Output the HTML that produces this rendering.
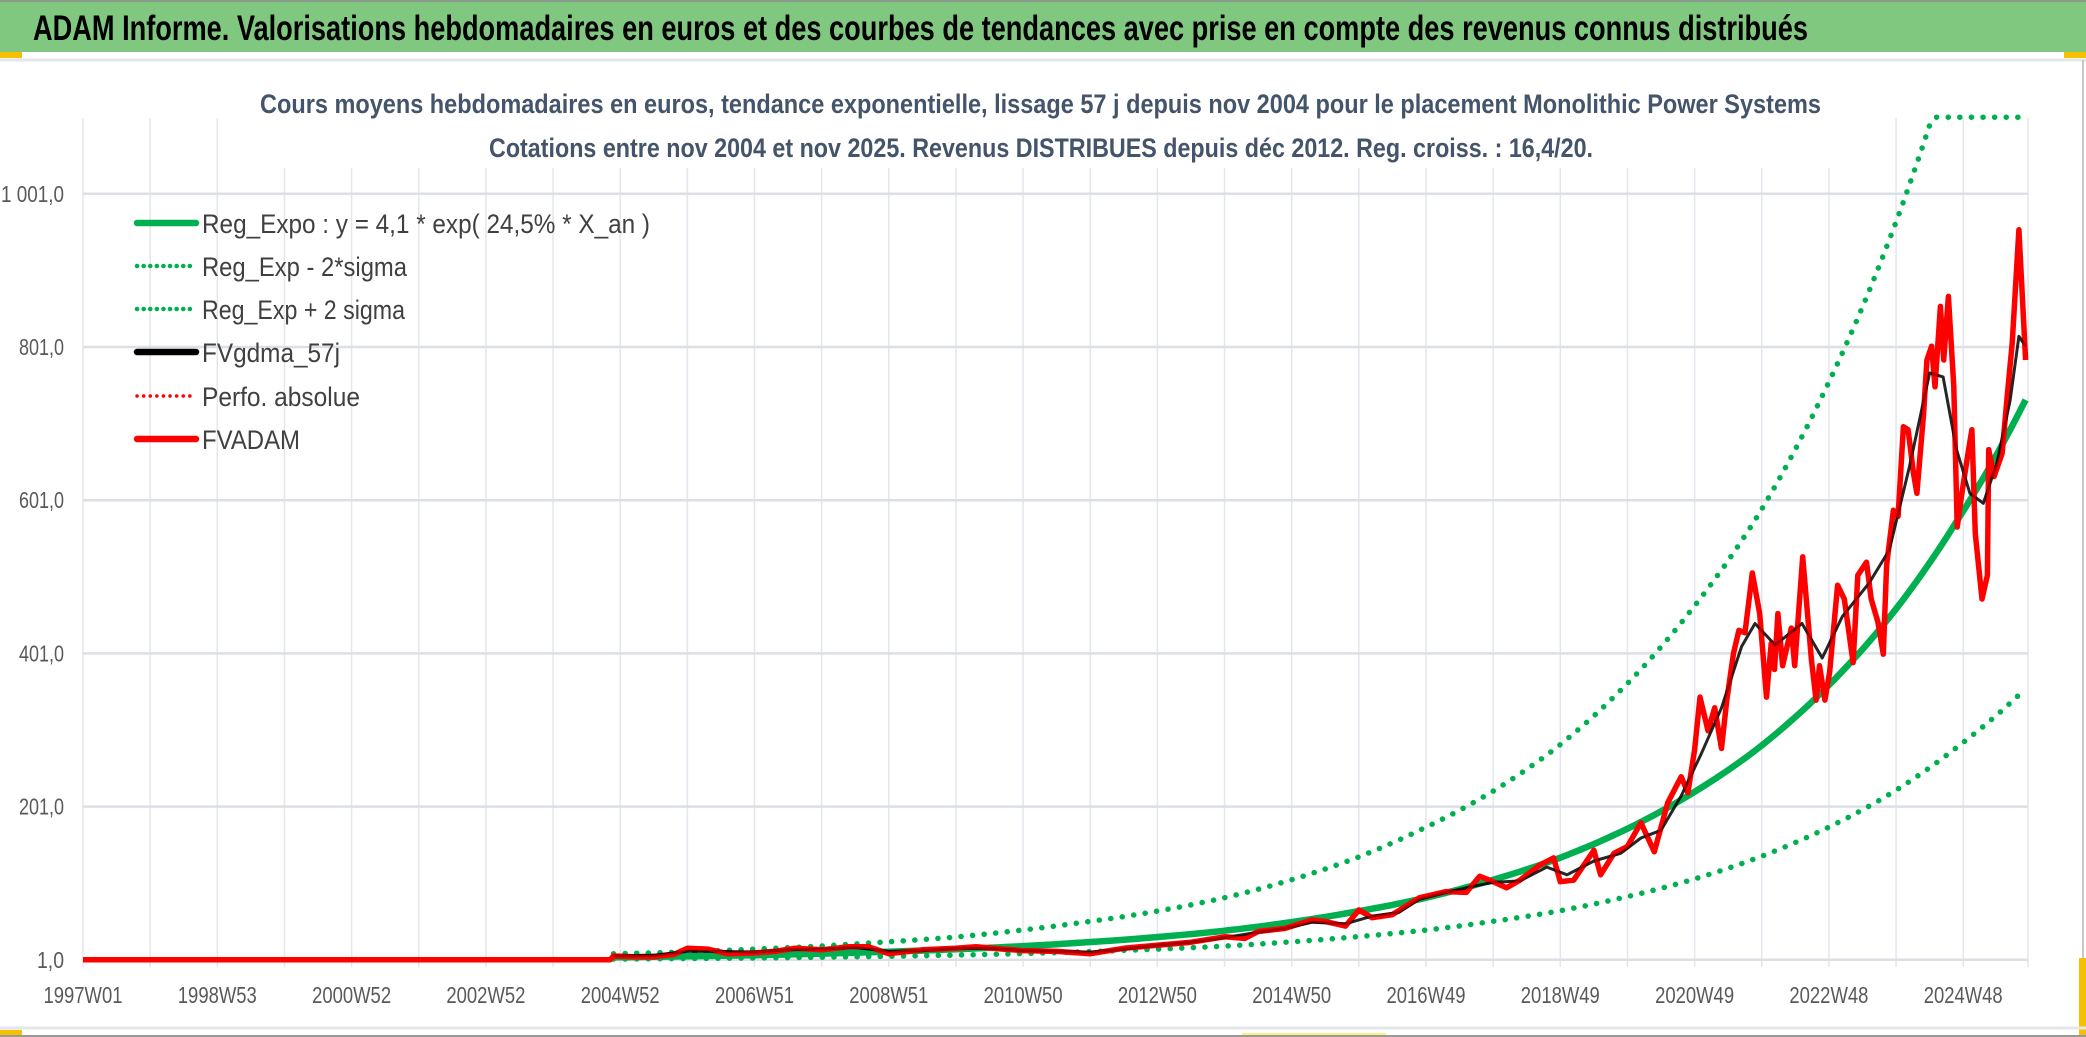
<!DOCTYPE html>
<html><head><meta charset="utf-8">
<style>
html,body{margin:0;padding:0;background:#fff;}
body{width:2086px;height:1037px;overflow:hidden;position:relative;font-family:"Liberation Sans",sans-serif;}
svg{position:absolute;left:0;top:0;}
</style></head>
<body>
<svg id="chart" width="2086" height="1037" viewBox="0 0 2086 1037" xmlns="http://www.w3.org/2000/svg">
  <rect x="0" y="0" width="2086" height="1037" fill="#ffffff"/>
  <rect x="0" y="0" width="2086" height="52" fill="#80c880"/>
  <line x1="0" y1="1" x2="2086" y2="1" stroke="#8a9a8a" stroke-width="2"/>
  <text x="33" y="40" font-family="Liberation Sans, sans-serif" font-weight="bold" font-size="35" fill="#000" textLength="1775" lengthAdjust="spacingAndGlyphs">ADAM Informe. Valorisations hebdomadaires en euros et des courbes de tendances avec prise en compte des revenus connus distribués</text>
  <rect x="0" y="52" width="22" height="6" fill="#f5c000"/>
  <rect x="2064" y="52" width="22" height="6" fill="#f5c000"/>
  <line x1="0" y1="60" x2="2086" y2="60" stroke="#e4e6ea" stroke-width="3"/>
  <line x1="2083" y1="60" x2="2083" y2="1037" stroke="#c8c8c8" stroke-width="2"/>
  <rect x="2079" y="958" width="7" height="79" fill="#f5c000"/>
  <line x1="0" y1="1028" x2="2086" y2="1028" stroke="#e4e6ea" stroke-width="3"/>
  <rect x="0" y="1030" width="22" height="7" fill="#f5c000"/>
  <rect x="1242" y="1033" width="144" height="4" fill="#fff27a"/>
  <line x1="0" y1="1036" x2="2086" y2="1036" stroke="#999" stroke-width="2"/>
  <g id="grid"></g>
  <rect x="255" y="62" width="1630" height="106" fill="#fff"/>
  <text x="260" y="113" font-family="Liberation Sans, sans-serif" font-weight="bold" font-size="27" fill="#44546a" textLength="1561" lengthAdjust="spacingAndGlyphs">Cours moyens hebdomadaires en euros, tendance exponentielle, lissage 57 j depuis nov 2004 pour le placement Monolithic Power Systems</text>
  <text x="489" y="157" font-family="Liberation Sans, sans-serif" font-weight="bold" font-size="27" fill="#44546a" textLength="1104" lengthAdjust="spacingAndGlyphs">Cotations entre nov 2004 et nov 2025. Revenus DISTRIBUES depuis déc 2012. Reg. croiss. : 16,4/20.</text>
  <g id="axes"></g>
  <g id="series"></g>
  <g id="legend"></g>
</svg>
<script>
// ---- data ----
const yTicks = [1, 201, 401, 601, 801, 1001];
const yTickLabels = ["1,0", "201,0", "401,0", "601,0", "801,0", "1 001,0"];
const xTickYears = [1997, 1999, 2001, 2003, 2005, 2007, 2009, 2011, 2013, 2015, 2017, 2019, 2021, 2023, 2025];
const xTickLabels = ["1997W01","1998W53","2000W52","2002W52","2004W52","2006W51","2008W51","2010W50","2012W50","2014W50","2016W49","2018W49","2020W49","2022W48","2024W48"];

const trendYears = [2004.9,2005.9,2006.9,2007.9,2008.9,2009.9,2010.9,2011.9,2012.9,2013.9,2014.9,2015.9,2016.9,2017.9,2018.9,2019.9,2020.9,2021.9,2022.9,2023.9,2024.9,2025.93];
const regExpo = [4.2,5.4,6.9,8.8,11.3,14.4,18.4,23.6,30,38,49,63,80,103,131,168,215,274,351,448,573,732];
const regMinus = [2.0,2.6,3.3,4.3,5.5,7.0,8.9,11.4,14.6,18.4,23.8,30.6,38.8,50,63.5,81.5,104,133,170,217,278,355];
const regPlus = [8.8,11,14.5,18.5,24,30,39,50,63,80,103,132,170,216,275,353,452,575,737,941,1203,1537];

const redYears = [1997.0,2004.85,2004.9,2005.2,2005.5,2005.8,2006.0,2006.3,2006.6,2007.0,2007.3,2007.6,2008.0,2008.4,2008.7,2009.0,2009.5,2010.0,2010.3,2010.7,2011.0,2011.5,2012.0,2012.5,2013.0,2013.5,2014.0,2014.3,2014.5,2014.9,2015.3,2015.5,2015.8,2016.0,2016.2,2016.5,2016.9,2017.3,2017.6,2017.8,2018.0,2018.2,2018.4,2018.7,2018.9,2019.0,2019.2,2019.5,2019.6,2019.8,2020.0,2020.2,2020.4,2020.6,2020.8,2020.9,2021.0,2021.08,2021.2,2021.3,2021.4,2021.48,2021.58,2021.66,2021.75,2021.86,2021.97,2022.07,2022.14,2022.19,2022.24,2022.31,2022.44,2022.49,2022.61,2022.74,2022.81,2022.86,2022.94,2023.01,2023.13,2023.23,2023.36,2023.43,2023.56,2023.63,2023.73,2023.81,2023.86,2023.96,2024.03,2024.11,2024.18,2024.26,2024.31,2024.41,2024.46,2024.53,2024.58,2024.66,2024.71,2024.78,2024.86,2024.91,2024.98,2025.08,2025.13,2025.18,2025.28,2025.36,2025.38,2025.46,2025.58,2025.66,2025.73,2025.83,2025.93];
const redValues = [1,1,6,5,5,8,16,15,9,10,12,16,14,18,18,9,14,16,18,15,13,12,9,16,20,24,31,29,38,42,53,51,45,66,56,60,82,90,89,110,103,95,105,125,134,103,105,144,112,140,149,180,142,206,240,219,275,344,300,330,277,340,401,431,428,506,453,344,414,380,453,385,434,385,527,393,340,385,340,376,490,472,389,503,520,472,442,400,516,588,580,697,693,636,610,714,784,802,749,854,784,867,749,566,610,667,693,557,472,503,667,632,662,741,806,954,784];

const blackYears = [2004.9,2005.5,2006.0,2006.5,2007.0,2007.5,2008.0,2008.5,2009.0,2009.5,2010.0,2010.5,2011.0,2011.5,2012.0,2012.5,2013.0,2013.5,2014.0,2014.5,2014.9,2015.3,2015.8,2016.2,2016.6,2016.9,2017.3,2017.7,2018.0,2018.4,2018.8,2019.1,2019.5,2019.9,2020.2,2020.5,2020.8,2021.1,2021.4,2021.7,2021.9,2022.2,2022.6,2022.9,2023.2,2023.6,2023.9,2024.2,2024.5,2024.7,2024.9,2025.1,2025.3,2025.5,2025.7,2025.83,2025.93];
const blackValues = [6,7,12,12,11,14,15,17,12,13,16,16,13,12,11,15,20,24,30,37,42,50,48,58,63,80,89,97,102,104,122,112,130,140,160,170,215,270,330,410,440,412,440,395,449,493,536,645,767,762,667,610,597,649,732,815,802];

// ---- scales ----
const X0 = 83, PX_PER_YEAR = 67.15, Y0 = 959.8, PX_PER_UNIT = 0.766, YMAX = 1101;
function xScale(yr){ return X0 + (yr - 1997) * PX_PER_YEAR; }
function yScale(v){ return Y0 - (Math.min(v, YMAX) - 1) * PX_PER_UNIT; }
const NS = "http://www.w3.org/2000/svg";
function mk(tag, attrs, parent){
  const e = document.createElementNS(NS, tag);
  for (const k in attrs) e.setAttribute(k, attrs[k]);
  parent.appendChild(e); return e;
}

// ---- grid ----
const grid = document.getElementById("grid");
for (let yr = 1997; yr <= 2026; yr++) {
  const x = xScale(yr);
  if (x > 2030) break;
  const gl = mk("line", {x1:x, y1:118, x2:x, y2:967, stroke:"#e3e6ec", "stroke-width":1.5}, grid);
  
  
}
const xEnd = 2028;
mk("line", {x1:xEnd, y1:118, x2:xEnd, y2:967, stroke:"#e3e6ec", "stroke-width":1.5}, grid);
yTicks.forEach((v) => {
  const y = yScale(v);
  const hl = mk("line", {x1:X0, y1:y, x2:xEnd, y2:y, stroke:"#dcdfe6", "stroke-width":2.5}, grid);
  
  
});

// ---- axes labels ----
const axes = document.getElementById("axes");
yTicks.forEach((v, i) => {
  const t = mk("text", {x:64, y:yScale(v)+8, "text-anchor":"end", "font-size":23, fill:"#595959",
    "font-family":"Liberation Sans, sans-serif", textLength: yTickLabels[i].length*9, lengthAdjust:"spacingAndGlyphs"}, axes);
  t.textContent = yTickLabels[i];
  
  
});
xTickYears.forEach((yr, i) => {
  const t = mk("text", {x:xScale(yr), y:1003, "text-anchor":"middle", "font-size":23, fill:"#595959",
    "font-family":"Liberation Sans, sans-serif", textLength:79, lengthAdjust:"spacingAndGlyphs"}, axes);
  t.textContent = xTickLabels[i];
  
  
});

// ---- series ----
const series = document.getElementById("series");
function pathFrom(years, vals){
  return years.map((yr, i) => (i ? "L" : "M") + xScale(yr).toFixed(1) + "," + yScale(vals[i]).toFixed(1)).join(" ");
}
function smoothPath(years, vals){
  let d = "";
  for (let i = 0; i < years.length - 1; i++) {
    for (let s = 0; s < 10; s++) {
      const f = s / 10;
      const yr = years[i] + (years[i+1]-years[i]) * f;
      const v = Math.exp(Math.log(vals[i]) + (Math.log(vals[i+1]) - Math.log(vals[i])) * f);
      d += (d ? "L" : "M") + xScale(yr).toFixed(1) + "," + yScale(v).toFixed(1) + " ";
    }
  }
  const n = years.length - 1;
  d += "L" + xScale(years[n]).toFixed(1) + "," + yScale(vals[n]).toFixed(1);
  return d;
}
const pPlus = mk("path", {d:smoothPath(trendYears, regPlus), fill:"none", stroke:"#00b050", "stroke-width":5.5, "stroke-linecap":"round", "stroke-dasharray":"0.1 11.5"}, series);


const pMinus = mk("path", {d:smoothPath(trendYears, regMinus), fill:"none", stroke:"#00b050", "stroke-width":5.5, "stroke-linecap":"round", "stroke-dasharray":"0.1 11.5"}, series);


const pReg = mk("path", {d:smoothPath(trendYears, regExpo), fill:"none", stroke:"#00b050", "stroke-width":6.5, "stroke-linejoin":"round"}, series);


const pRed = mk("path", {d:pathFrom(redYears, redValues), fill:"none", stroke:"#ff0000", "stroke-width":5.5, "stroke-linejoin":"round"}, series);


const pBlack = mk("path", {d:pathFrom(blackYears, blackValues), fill:"none", stroke:"#000000", "stroke-width":3, "stroke-linejoin":"round", opacity:0.85}, series);


const pRed2 = mk("path", {d:pathFrom(redYears, redValues), fill:"none", stroke:"#ff0000", "stroke-width":4, "stroke-linejoin":"round", opacity:0.6}, series);



// ---- legend ----
const legendLabels = ["Reg_Expo : y = 4,1 * exp( 24,5% *  X_an )","Reg_Exp - 2*sigma","Reg_Exp + 2 sigma","FVgdma_57j","Perfo. absolue","FVADAM"];
const legendColors = ["#00b050","#00b050","#00b050","#000000","#ff0000","#ff0000"];
const legendDotted = [false,true,true,false,true,false];
const legendWidths = [448,205,203,138,158,98];
const legendRowY = [223,266,309,352,396,439];
const legend = document.getElementById("legend");
legendLabels.forEach((lab, i) => {
  const g = mk("g", {}, legend);
  
  
  const y = legendRowY[i];
  const attrs = {x1:137, y1:y, x2:196, y2:y, stroke:legendColors[i]};
  if (legendDotted[i]) { attrs["stroke-width"] = legendColors[i]==="#ff0000"?3.5:4.5; attrs["stroke-dasharray"]="0.1 6.5"; attrs["stroke-linecap"]="round"; }
  else { attrs["stroke-width"] = 6.5; attrs["stroke-linecap"]="round"; }
  mk("line", attrs, g);
  const t = mk("text", {x:202, y:y+10, "font-size":27, fill:"#404040", "font-family":"Liberation Sans, sans-serif",
    textLength:legendWidths[i], lengthAdjust:"spacingAndGlyphs"}, g);
  t.textContent = lab;
});
</script>
</body></html>
